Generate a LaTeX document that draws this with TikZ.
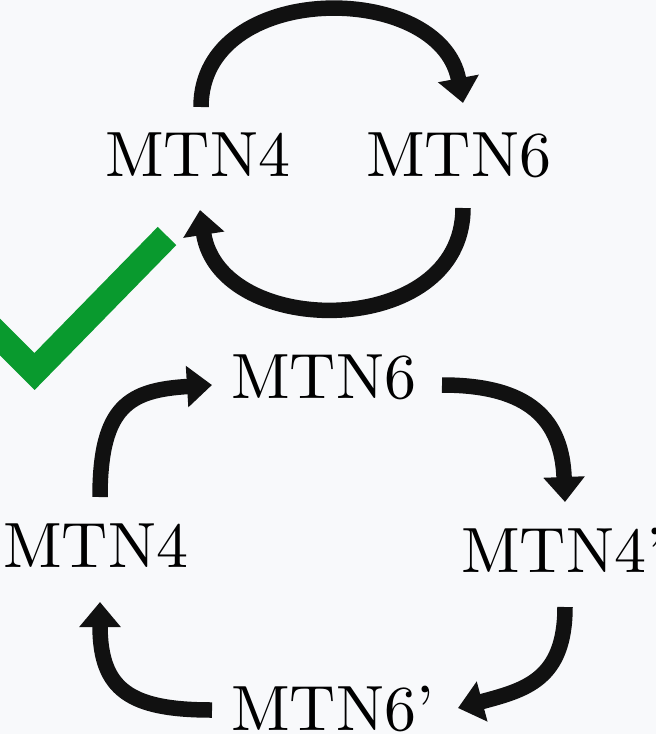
\documentclass[tikz,border=0pt]{standalone}
\usepackage{fontspec}
\setmainfont{lmroman10-regular}[Extension=.otf, Ligatures=TeX]
\usetikzlibrary{arrows.meta}
\definecolor{bg}{RGB}{248,249,251}
\definecolor{ink}{RGB}{17,17,17}
\definecolor{okgreen}{RGB}{9,154,46}
\begin{document}
\begin{tikzpicture}[x=1pt,y=-1pt,
  lbl/.style={inner sep=0pt, anchor=base west, font=\fontsize{64}{70}\selectfont, text=black},
  flow/.style={draw=ink, line width=15.5pt, -{Triangle[width=40pt,length=25pt]}}]
\fill[bg] (0,0) rectangle (656,734);
\useasboundingbox (0,0) rectangle (656,734);
\begin{scope}
\clip (0,0) rectangle (656,734);
\draw[okgreen, line width=26pt, miter limit=10] (-30,307) -- (34.5,371.5) -- (167,236);
\end{scope}
\node[lbl] (t4) at (105,176) {MTN4};
\node[lbl] (t6) at (366,176) {MTN6};
\node[lbl] (m6) at (231,398) {MTN6};
\node[lbl] (l4) at (3,567) {MTN4};
\node[lbl] (r4) at (461,572) {MTN4’};
\node[lbl] (b6) at (231,730) {MTN6’};
% top cycle
\draw[flow] ([xshift=96pt,yshift=69pt]t4.base west) .. controls +(0,-127) and +(-23,-123) .. ([xshift=97pt,yshift=73pt]t6.base west);
\draw[flow] ([xshift=97pt,yshift=-32pt]t6.base west) .. controls +(0,132) and +(20,130) .. ([xshift=95pt,yshift=-34pt]t4.base west);
% bottom cycle
\draw[flow] ([xshift=97pt,yshift=70pt]l4.base west) .. controls +(0,-92) and +(-82,5) .. ([xshift=-19pt,yshift=13pt]m6.base west);
\draw[flow] ([xshift=211pt,yshift=13pt]m6.base west) .. controls +(88,0) and +(-3,-82) .. ([xshift=104pt,yshift=70pt]r4.base west);
\draw[flow] ([xshift=104pt,yshift=-35pt]r4.base west) .. controls +(0,73) and +(67,-18) .. ([xshift=227pt,yshift=22pt]b6.base west);
\draw[flow] ([xshift=-19pt,yshift=20pt]b6.base west) .. controls +(-82,0) and +(0,88) .. ([xshift=97pt,yshift=-35pt]l4.base west);
\end{tikzpicture}
\end{document}
